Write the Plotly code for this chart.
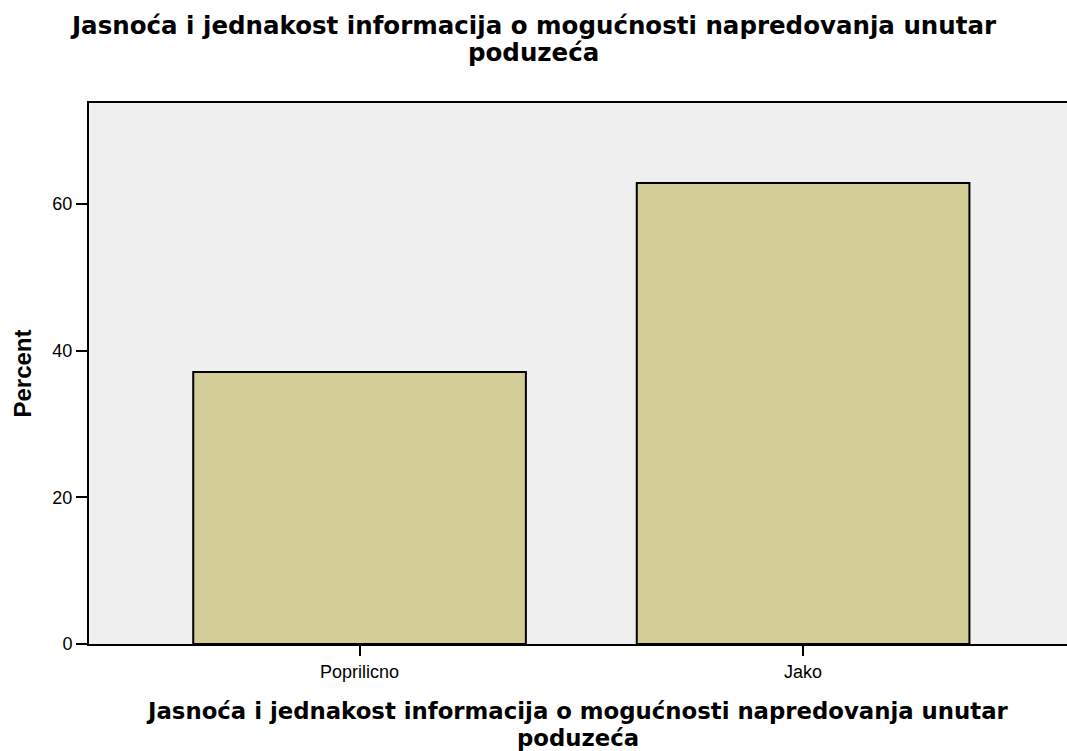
import plotly.graph_objects as go

categories = ["Poprilicno", "Jako"]
percent = [37.1, 62.9]
y_ticks = [0, 20, 40, 60]
title_lines = ["Jasnoća i jednakost informacija o mogućnosti napredovanja unutar", "poduzeća"]

W, H = 1067, 751
L, T, B = 89, 103, 107
plot_w = W - L

fig = go.Figure()
fig.add_trace(go.Bar(
    x=categories, y=percent, width=0.75,
    marker=dict(color="#D3CE97", line=dict(color="black", width=2)),
))

title_font = dict(family="DejaVu Sans", size=24.5, color="black")
xtitle_font = dict(family="DejaVu Sans", size=22.8, color="black")
annotations = []
# chart title (two lines), centred on the page
for line, shift in zip(title_lines, [78, 51]):
    annotations.append(dict(
        text="<b>" + line + "</b>", xref="paper", yref="paper",
        x=(W / 2 - L) / plot_w, y=1, xanchor="center", yanchor="middle",
        yshift=shift, showarrow=False, font=title_font))
# x-axis title (two lines), centred under the plot
for line, shift in zip(title_lines, [-67, -94]):
    annotations.append(dict(
        text="<b>" + line + "</b>", xref="paper", yref="paper",
        x=0.4995, y=0, xanchor="center", yanchor="middle",
        yshift=shift, showarrow=False, font=xtitle_font))

fig.update_layout(
    width=W, height=H,
    paper_bgcolor="white", plot_bgcolor="#EFEFEF",
    margin=dict(l=L, r=0, t=T, b=B),
    showlegend=False,
    font=dict(family="Liberation Sans, Arial, sans-serif", color="black", size=18),
    annotations=annotations,
)
fig.update_xaxes(
    range=[-0.61, 1.595], showline=True, linecolor="black", linewidth=2,
    mirror=True, ticks="outside", ticklen=10, tickcolor="black", tickwidth=2,
    showgrid=False, tickfont=dict(size=18),
)
fig.update_yaxes(
    range=[0, 73.8], tickvals=y_ticks, showline=True, linecolor="black",
    linewidth=2, ticks="outside", ticklen=11, tickcolor="black", tickwidth=2,
    showgrid=False, zeroline=False, tickfont=dict(size=18),
    title=dict(text="<b>Percent</b>", font=dict(size=24), standoff=14),
)

fig.write_html("out.html", config={"displayModeBar": False},
               post_script="document.body.style.margin='0';")
